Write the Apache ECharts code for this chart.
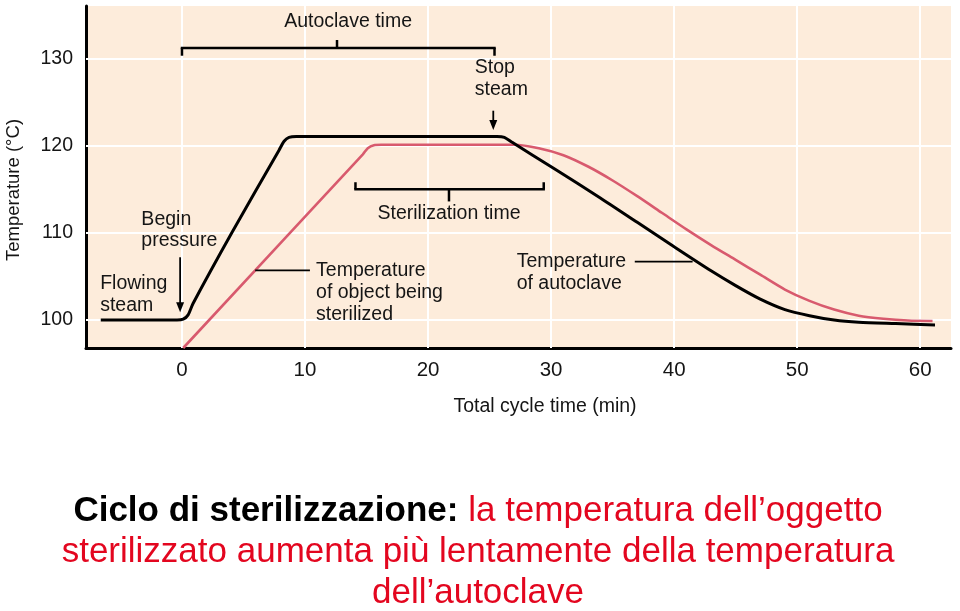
<!DOCTYPE html>
<html><head><meta charset="utf-8">
<script src="https://cdn.jsdelivr.net/npm/echarts@6/dist/echarts.min.js"></script>
<style>html,body{margin:0;padding:0;background:#fff}#c{width:960px;height:611px}</style>
</head><body><div id="c"></div>
<script>
// ---- data ----
const xTicks = [0, 10, 20, 30, 40, 50, 60];
const yTicks = [100, 110, 120, 130];
const xAxisName = 'Total cycle time (min)';
const yAxisName = 'Temperature (°C)';

// Temperature of autoclave (black)
const autoclaveTime = [-6.6, -0.4, 0.1, 0.5, 0.9, 4.05, 7.9, 8.3, 8.7, 9.3, 25.6, 26.2, 26.8, 30.2, 34.0, 37.0, 40.0, 43.0, 45.0, 47.0, 49.0, 51.0, 53.0, 55.0, 58.0, 61.2];
const autoclaveTemp = [100.0, 100.0, 100.1, 100.6, 101.9, 110.0, 119.5, 120.5, 120.95, 121.05, 121.05, 120.95, 120.4, 117.4, 114.0, 111.2, 108.4, 105.65, 103.95, 102.4, 101.2, 100.5, 100.0, 99.75, 99.6, 99.45];

// Temperature of object being sterilized (pink)
const objectTime = [0.1, 14.7, 15.1, 15.6, 16.2, 27.0, 29.0, 31.0, 33.0, 35.0, 37.0, 39.0, 41.0, 43.0, 45.0, 47.0, 49.0, 51.0, 53.0, 55.0, 57.0, 59.0, 61.0];
const objectTemp = [96.8, 119.0, 119.7, 120.05, 120.1, 120.1, 119.7, 118.9, 117.6, 116.0, 114.2, 112.3, 110.4, 108.6, 106.9, 105.2, 103.5, 102.2, 101.2, 100.5, 100.15, 99.95, 99.9];

// annotations (data coordinates)
const notes = [
  {lines: ['Begin', 'pressure'], x: -3.3, y: [111.5, 109.1]},
  {lines: ['Flowing', 'steam'], x: -6.65, y: [104.2, 101.7]},
  {lines: ['Stop', 'steam'], x: 23.8, y: [128.9, 126.4]},
  {lines: ['Temperature', 'of object being', 'sterilized'], x: 10.9, y: [105.7, 103.1, 100.6]},
  {lines: ['Temperature', 'of autoclave'], x: 27.2, y: [106.7, 104.2]}
];
const bracketAutoclave = {label: 'Autoclave time', x0: 0, x1: 25.4, y: 131.2, end: 130.3, mid: 12.6, tip: 132.1, tx: 13.5, ty: 134.2};
const bracketSteril = {label: 'Sterilization time', x0: 14.1, x1: 29.4, y: 115.0, end: 115.8, mid: 21.7, tip: 113.6, tx: 21.7, ty: 112.25};
const arrows = [
  {x: -0.15, y0: 107.2, y1: 100.9},
  {x: 25.3, y0: 124.0, y1: 121.8}
];
const connectors = [
  {x0: 5.95, x1: 10.4, y: 105.7},
  {x0: 36.8, x1: 41.5, y: 106.7}
];
const captionBold = 'Ciclo di sterilizzazione';
const captionLines = [' la temperatura dell’oggetto', 'sterilizzato aumenta più lentamente della temperatura', 'dell’autoclave'];

// ---- chart ----
const RED = '#e3061f';
const PINK = '#d85a6e';
const INK = '#151515';
const SANS = '"Liberation Sans", Arial, Helvetica, sans-serif';

const chart = echarts.init(document.getElementById('c'), null, {renderer: 'canvas'});
const option = {
  animation: false,
  backgroundColor: '#ffffff',
  grid: {left: 86, right: 9, top: 6, bottom: 263, show: true, backgroundColor: '#fdecdb', borderWidth: 0},
  xAxis: {
    type: 'value', min: -7.8, max: 62.5,
    axisLine: {show: true, onZero: false, lineStyle: {color: '#000', width: 3}},
    axisTick: {show: false},
    splitLine: {show: false},
    axisLabel: {customValues: xTicks, margin: 12, fontSize: 20.5, fontFamily: SANS, color: INK}
  },
  yAxis: {
    type: 'value', min: 96.8, max: 136.0,
    axisLine: {show: true, onZero: false, lineStyle: {color: '#000', width: 3}},
    axisTick: {show: false},
    splitLine: {show: false},
    axisLabel: {customValues: yTicks, margin: 13, fontSize: 19.5, fontFamily: SANS, color: INK}
  },
  series: [
    {
      type: 'line', data: [], z: 1, silent: true,
      markLine: {
        z: 1, silent: true, symbol: ['none', 'none'], label: {show: false}, animation: false,
        lineStyle: {color: '#ffffff', width: 2, type: 'solid'},
        emphasis: {disabled: true},
        data: xTicks.map(v => ({xAxis: v})).concat(yTicks.map(v => ({yAxis: v})))
      }
    },
    {
      name: 'Temperature of object being sterilized', type: 'line', z: 10,
      data: objectTime.map((t, i) => [t, objectTemp[i]]),
      showSymbol: false, smooth: 0.25, lineStyle: {color: PINK, width: 2.6}
    },
    {
      name: 'Temperature of autoclave', type: 'line', z: 11,
      data: autoclaveTime.map((t, i) => [t, autoclaveTemp[i]]),
      showSymbol: false, smooth: 0.25, lineStyle: {color: '#000', width: 3}
    }
  ]
};
chart.setOption(option);

const P = (x, y) => chart.convertToPixel({gridIndex: 0}, [x, y]);
const g = [];
function seg(a, b, w) {
  g.push({type: 'line', z: 50, shape: {x1: a[0], y1: a[1], x2: b[0], y2: b[1]}, style: {stroke: '#000', lineWidth: w || 2.5}});
}
function txt(p, text, align, size, fill) {
  g.push({type: 'text', z: 50, x: p[0], y: p[1], style: {text: text, fill: fill || INK, fontSize: size || 19.5, fontFamily: SANS, align: align || 'left', verticalAlign: 'middle'}});
}
// notes
notes.forEach(n => n.lines.forEach((l, i) => txt(P(n.x, n.y[i]), l, 'left')));
// brackets
function bracket(b) {
  const a = P(b.x0, b.y), c = P(b.x1, b.y);
  seg([a[0] - 1.2, a[1]], [c[0] + 1.2, c[1]]);
  seg(a, P(b.x0, b.end));
  seg(c, P(b.x1, b.end));
  seg(P(b.mid, b.y), P(b.mid, b.tip));
  txt(P(b.tx, b.ty), b.label, 'center');
}
bracket(bracketAutoclave);
bracket(bracketSteril);
// arrows
arrows.forEach(a => {
  const s = P(a.x, a.y0), e = P(a.x, a.y1);
  seg(s, [e[0], e[1] - 6], 1.8);
  g.push({type: 'polygon', z: 50, shape: {points: [[e[0] - 4, e[1] - 10], [e[0] + 4, e[1] - 10], [e[0], e[1]]]}, style: {fill: '#000'}});
});
// connectors
connectors.forEach(c => seg(P(c.x0, c.y), P(c.x1, c.y), 1.6));
// axis names
g.push({type: 'text', z: 50, x: 14, y: 190, rotation: Math.PI / 2, style: {text: yAxisName, fill: INK, fontSize: 18.5, fontFamily: SANS, align: 'center', verticalAlign: 'middle'}});
g.push({type: 'text', z: 50, x: 545, y: 407, style: {text: xAxisName, fill: INK, fontSize: 19.5, fontFamily: SANS, align: 'center', verticalAlign: 'middle'}});
// caption
g.push({type: 'text', z: 50, x: 478, y: 511, style: {
  text: '{b|' + captionBold + '}{k|:}{r|' + captionLines[0] + '}',
  align: 'center', verticalAlign: 'middle',
  rich: {
    b: {fontSize: 35, fontWeight: 'bold', fontFamily: SANS, fill: '#000', color: '#000'},
    k: {fontSize: 35, fontWeight: 'bold', fontFamily: SANS, fill: '#000', color: '#000'},
    r: {fontSize: 35, fontFamily: SANS, fill: RED, color: RED}
  }
}});
txt([478, 552], captionLines[1], 'center', 35, RED);
txt([478, 593], captionLines[2], 'center', 35, RED);
chart.setOption({graphic: g});
</script>
</body></html>
